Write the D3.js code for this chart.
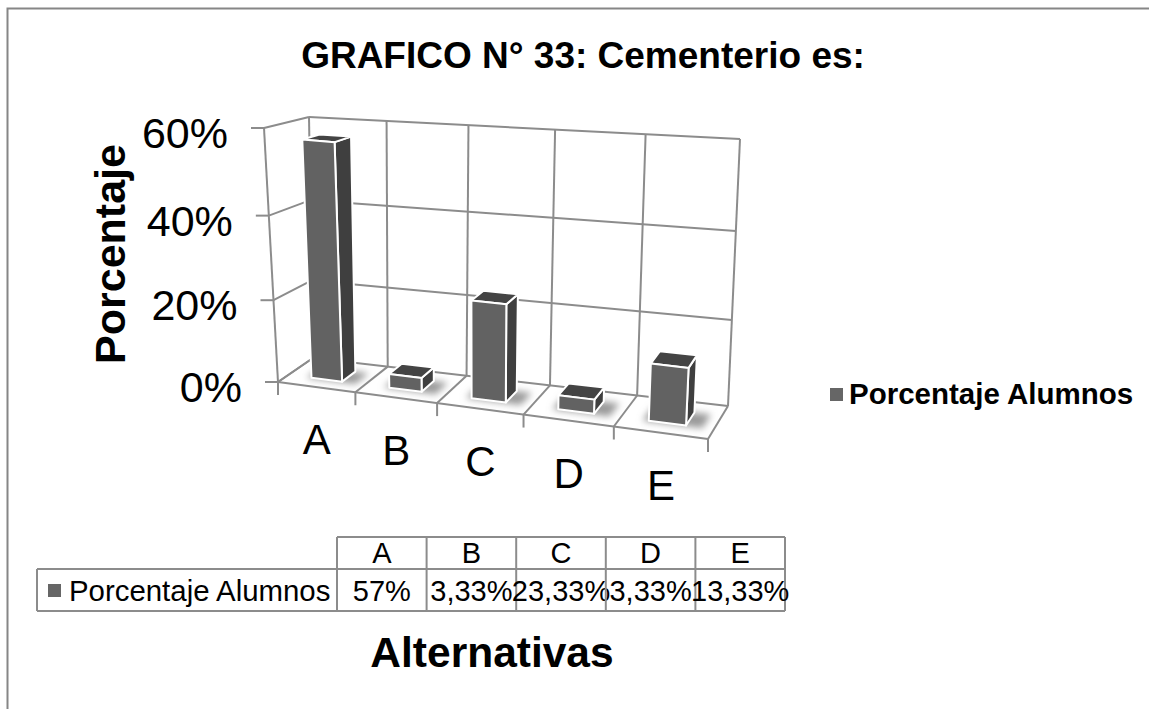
<!DOCTYPE html>
<html>
<head>
<meta charset="utf-8">
<script src="https://d3js.org/d3.v7.min.js"></script>
<style>
body { margin: 0; background: #fff; }
text { font-family: "Liberation Sans", Arial, sans-serif; fill: #000; }
</style>
</head>
<body>
<svg width="1149" height="709"></svg>
<script>
var categories = ["A", "B", "C", "D", "E"];
var values = [0.57, 0.0333, 0.2333, 0.0333, 0.1333];
var valueLabels = ["57%", "3,33%", "23,33%", "3,33%", "13,33%"];
var yTicks = [0, 0.2, 0.4, 0.6];
var seriesName = "Porcentaje Alumnos";

var width = 1149, height = 709;
var svg = d3.select("svg");

// scales give fractions across the slanted box, bilinear corners below turn them into pixels
var uScale = d3.scaleLinear().domain([0, 1, 2, 3, 4, 5]).range([0, 0.18, 0.37, 0.571, 0.781, 1]);
var hScale = d3.scaleLinear().domain(yTicks).range([0, 0.322, 0.655, 1]);

var frontBottom = [[278, 382], [708, 439]];
var backBottom = [[313, 358], [728, 406]];
var frontTop = [[264, 128], [722, 168]];
var backTop = [[309, 117], [740, 139]];

function lerp(a, b, t) { return [a[0] + (b[0] - a[0]) * t, a[1] + (b[1] - a[1]) * t]; }

// i = category position, d = depth 0 front to 1 back, v = value
function pt(i, d, v) {
  var u = uScale(i), h = hScale(v);
  var fb = lerp(frontBottom[0], frontBottom[1], u);
  var bb = lerp(backBottom[0], backBottom[1], u);
  var ft = lerp(frontTop[0], frontTop[1], u);
  var bt = lerp(backTop[0], backTop[1], u);
  return lerp(lerp(fb, bb, d), lerp(ft, bt, d), h);
}

function poly(parent, pts, fill, stroke, sw) {
  return parent.append("polygon")
    .attr("points", pts.map(function(p) { return p.join(","); }).join(" "))
    .attr("fill", fill)
    .attr("stroke", stroke || "none")
    .attr("stroke-width", sw || 0)
    .attr("stroke-linejoin", "round");
}

function seg(p, q, color, sw) {
  svg.append("line")
    .attr("x1", p[0]).attr("y1", p[1])
    .attr("x2", q[0]).attr("y2", q[1])
    .attr("stroke", color || "#8c8c8c")
    .attr("stroke-width", sw || 2);
}

var defs = svg.append("defs");
defs.append("filter").attr("id", "soft")
  .attr("x", "-40%").attr("y", "-60%").attr("width", "180%").attr("height", "220%")
  .append("feGaussianBlur").attr("stdDeviation", 3.5);

// outer border
svg.append("path")
  .attr("d", "M7.5,709V8.5H1149")
  .attr("fill", "none")
  .attr("stroke", "#868686")
  .attr("stroke-width", 2);

// title
svg.append("text")
  .attr("x", 583).attr("y", 68)
  .attr("text-anchor", "middle")
  .attr("font-size", 37).attr("font-weight", "bold")
  .text("GRAFICO N° 33: Cementerio es:");

// walls and floor
yTicks.forEach(function(t) {
  seg(pt(0, 0, t), pt(0, 1, t));
  seg(pt(0, 1, t), pt(5, 1, t));
  seg(pt(0, 0, t), [pt(0, 0, t)[0] - 13, pt(0, 0, t)[1]]);
  var p = pt(0, 0, t);
  svg.append("text")
    .attr("x", p[0] - 36).attr("y", p[1] + 20)
    .attr("text-anchor", "end")
    .attr("font-size", 43)
    .text(d3.format(".0%")(t));
});
d3.range(0, 6).forEach(function(i) {
  seg(pt(i, 0, 0), pt(i, 1, 0));
  seg(pt(i, 1, 0), pt(i, 1, 0.6));
  var p = pt(i, 0, 0);
  seg(p, [p[0], p[1] + 13]);
});
seg(pt(0, 0, 0), pt(5, 0, 0));
seg(pt(0, 0, 0), pt(0, 0, 0.6));

// bars, gap width 150% in both directions
var lo = 0.3, hi = 0.7;
categories.forEach(function(c, i) {
  var v = values[i];
  var g = svg.append("g");
  poly(g, [pt(i + 0.24, 0.28, 0), pt(i + 0.88, 0.28, 0), pt(i + 0.88, 0.7, 0), pt(i + 0.24, 0.7, 0)], "#9a9a9a")
    .attr("filter", "url(#soft)");
  poly(g, [pt(i + hi, lo, 0), pt(i + hi, hi, 0), pt(i + hi, hi, v), pt(i + hi, lo, v)], "#3f3f3f", "#fff", 2);
  poly(g, [pt(i + lo, lo, v), pt(i + hi, lo, v), pt(i + hi, hi, v), pt(i + lo, hi, v)], "#444444", "#fff", 2);
  poly(g, [pt(i + lo, lo, 0), pt(i + hi, lo, 0), pt(i + hi, lo, v), pt(i + lo, lo, v)], "#626262", "#fff", 2);
});

// category labels under the floor
categories.forEach(function(c, i) {
  var p = pt(i + 0.5, 0, 0);
  svg.append("text")
    .attr("x", p[0]).attr("y", p[1] + 67)
    .attr("text-anchor", "middle")
    .attr("font-size", 42)
    .text(c);
});

// y axis title
svg.append("text")
  .attr("transform", "translate(125,254) rotate(-90)")
  .attr("text-anchor", "middle")
  .attr("font-size", 43).attr("font-weight", "bold")
  .text("Porcentaje");

// legend
svg.append("rect").attr("x", 830).attr("y", 388).attr("width", 13).attr("height", 13).attr("fill", "#666");
svg.append("text")
  .attr("x", 849).attr("y", 404)
  .attr("font-size", 29.5).attr("font-weight", "bold")
  .text(seriesName);

// data table
var colX = d3.scaleBand().domain(categories).range([337, 785]);
var tableLeft = 37, rowY = [537, 569, 611];
seg([colX.range()[0], rowY[0]], [colX.range()[1], rowY[0]]);
seg([tableLeft, rowY[1]], [colX.range()[1], rowY[1]]);
seg([tableLeft, rowY[2]], [colX.range()[1], rowY[2]]);
seg([tableLeft, rowY[1]], [tableLeft, rowY[2]]);
seg([colX.range()[1], rowY[0]], [colX.range()[1], rowY[2]]);
categories.forEach(function(c, i) {
  var x = colX(c);
  seg([x, rowY[0]], [x, rowY[2]]);
  svg.append("text")
    .attr("x", x + colX.bandwidth() / 2).attr("y", 563)
    .attr("text-anchor", "middle").attr("font-size", 29)
    .text(c);
  svg.append("text")
    .attr("x", x + colX.bandwidth() / 2).attr("y", 601)
    .attr("text-anchor", "middle").attr("font-size", 29)
    .text(valueLabels[i]);
});
svg.append("rect").attr("x", 48).attr("y", 584).attr("width", 13).attr("height", 13).attr("fill", "#666");
svg.append("text")
  .attr("x", 69).attr("y", 601)
  .attr("font-size", 29.4)
  .text(seriesName);

// x axis title
svg.append("text")
  .attr("x", 492).attr("y", 667)
  .attr("text-anchor", "middle")
  .attr("font-size", 42.5).attr("font-weight", "bold")
  .text("Alternativas");
</script>
</body>
</html>
